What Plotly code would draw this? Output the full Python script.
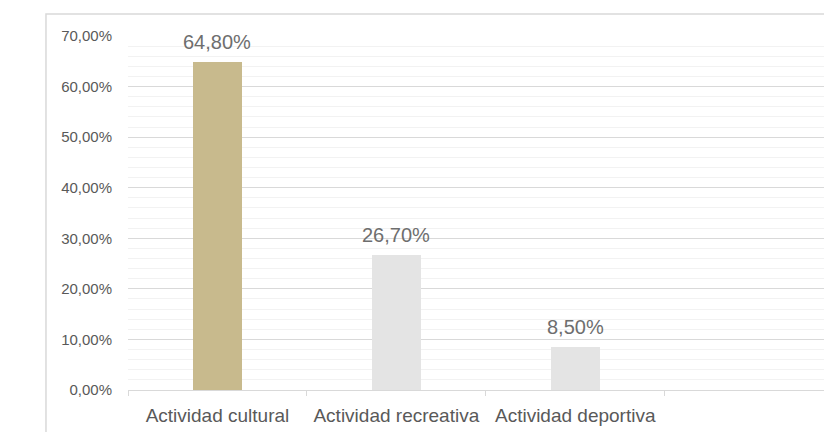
import plotly.graph_objects as go

categories = ["Actividad cultural", "Actividad recreativa", "Actividad deportiva"]
values = [0.648, 0.267, 0.085]
bar_colors = ["#C8BA8D", "#E4E4E4", "#E4E4E4"]

fig = go.Figure()
fig.add_trace(go.Bar(
    x=categories, y=values, marker=dict(color=bar_colors, line=dict(width=0)),
    width=0.275, hoverinfo="skip",
))

for c, v in zip(categories, values):
    fig.add_annotation(
        x=c, y=v, text=f"{v*100:.2f}%".replace(".", ","), showarrow=False,
        yanchor="bottom", yshift=7,
        font=dict(family="Liberation Sans, Arial", size=20, color="#6E6E6E"),
    )

# outer chart border
fig.add_shape(type="rect", xref="paper", yref="paper",
              x0=-0.1152, x1=1.2, y0=-0.3, y1=1.0621,
              line=dict(color="#D9D9D9", width=1.5), fillcolor="rgba(0,0,0,0)", layer="below")

fig.update_layout(
    width=832, height=432,
    margin=dict(l=120, r=0, t=28, b=50),
    paper_bgcolor="white", plot_bgcolor="white",
    separators=",.",
    showlegend=False,
    bargap=0,
    font=dict(family="Liberation Sans, Arial", color="#595959"),
)
fig.update_xaxes(
    type="category", range=[-0.5, 3.48],
    tickson="boundaries", ticks="outside", ticklen=5, tickcolor="#D9D9D9", tickwidth=1,
    showline=True, linecolor="#D9D9D9", linewidth=1,
    showgrid=False, zeroline=False,
    tickfont=dict(size=19, color="#595959"),
    tickangle=0,
    ticklabelstandoff=8,
)
fig.update_yaxes(
    range=[0, 0.7], dtick=0.1, tickformat=".2%",
    showgrid=True, gridcolor="#D9D9D9", gridwidth=1,
    minor=dict(dtick=0.02, showgrid=True, gridcolor="#F2F2F2", gridwidth=1),
    zeroline=False, showline=False, ticks="",
    tickfont=dict(size=15, color="#595959"),
    ticklabelstandoff=15,
)

fig.write_html("out.html")
